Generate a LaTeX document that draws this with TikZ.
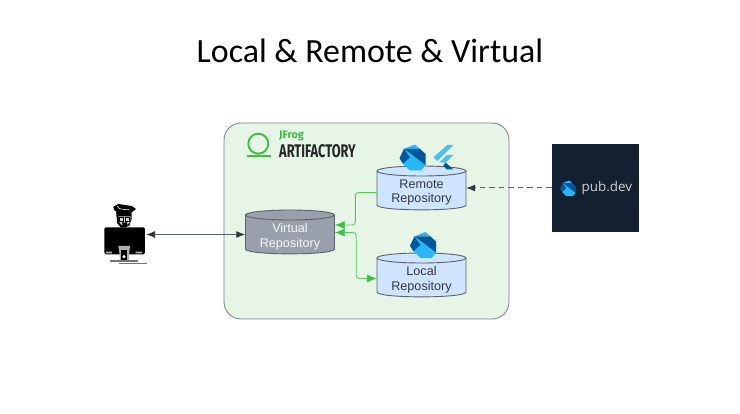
\documentclass[tikz,border=0pt]{standalone}
\usepackage{fontspec}
\usepackage{graphicx}
\setmainfont{Liberation Sans}
\newfontfamily\titlefont{Carlito}
\newfontfamily\logofont{Fira Sans}
\newfontfamily\pubfont{Open Sans}
\usetikzlibrary{arrows.meta,calc}
\definecolor{boxfill}{HTML}{E6F5E6}
\definecolor{boxline}{HTML}{7C868C}
\definecolor{repofill}{HTML}{CFE4FF}
\definecolor{virtfill}{HTML}{9AA0AB}
\definecolor{cylline}{HTML}{59636B}
\definecolor{jgreen}{HTML}{3DBE45}
\definecolor{pubbg}{HTML}{13202F}
\definecolor{txt}{HTML}{333840}
\definecolor{dartdark}{HTML}{01579B}
\definecolor{dartlight}{HTML}{29B6F6}
\tikzset{
  repolabel/.style={inner sep=0pt,align=center,minimum width=89pt,minimum height=38pt,font=\fontsize{12.6}{14}\selectfont},
  cylshape/.style={draw=cylline,line width=0.9pt},
  greentip/.style={Latex[length=10pt,width=8pt,color=jgreen]},
  greenlink/.style={draw=jgreen!85!white,line width=0.9pt,rounded corners=3pt},
  darklink/.style={draw=cylline,line width=1pt}
}
% cx, top, name, text, fill, text colour
\newcommand{\repocyl}[6]{%
  \pgfmathsetmacro{\xa}{#1-44.5}\pgfmathsetmacro{\xb}{#1+44.5}%
  \pgfmathsetmacro{\yt}{#2+5}\pgfmathsetmacro{\yb}{#2+39}\pgfmathsetmacro{\yc}{#2+45.5}%
  \pgfmathsetmacro{\ytx}{#2+26.5}%
  \draw[cylshape,fill=#5] (\xa,\yt) -- (\xa,\yb) .. controls (\xa,\yc) and (\xb,\yc) .. (\xb,\yb) -- (\xb,\yt);
  \draw[cylshape,fill=#5] (#1,\yt) ellipse [x radius=44.5pt,y radius=5pt];
  \node[repolabel,text=#6] (#3) at (#1,\ytx) {#4};
}
\newcommand{\dartlogo}[3]{%
  \begin{scope}[shift={(#1,#2)},x=#3pt,y=-#3pt]
    \fill[dartlight] (.17,.17) -- (.59,0) -- (.79,.17) -- cycle;
    \fill[dartdark] (.17,.17) -- (.79,.17) -- (1,.37) -- (1,.8) -- cycle;
    \fill[dartlight] (.17,.17) -- (1,.8) -- (.83,1) -- (.4,1) -- (.13,.74) -- cycle;
    \fill[dartdark] (0,.53) -- (.17,.17) -- (.4,.5) -- (.13,.74) -- cycle;
  \end{scope}}
\begin{document}
\begin{tikzpicture}[x=1pt,y=-1pt]
\useasboundingbox (0,0) rectangle (740,414);
\fill[white] (0,0) rectangle (740,414);
\node[inner sep=0pt,font=\titlefont\fontsize{33.9}{38}\selectfont,text=black] (title) at (370,50.5) {Local \& Remote \& Virtual};
% Artifactory box
\draw[fill=boxfill,draw=boxline,line width=0.9pt,rounded corners=17pt] (224,123) rectangle (509,319);
% JFrog logo
\node[circle,draw=jgreen,line width=1.9pt,minimum size=20pt,inner sep=0pt] (ring) at (258.3,143.7) {};
\draw[jgreen,line width=1.7pt] (246.5,156.3) -- (271,156.3);
\node[inner sep=0pt,anchor=west,text=jgreen,font=\logofont\bfseries\fontsize{10.8}{12}\selectfont] (jfrog) at (279,136) {JFrog};
\node[inner sep=0pt,anchor=west,text=black!85] (arti) at (279,151) {\resizebox{76.5pt}{13pt}{\logofont\bfseries ARTIFACTORY}};
% Repositories
\repocyl{290}{210}{virtual}{Virtual\\[0.8pt]Repository}{virtfill}{white!92!virtfill}
\repocyl{421.5}{166}{remote}{Remote\\[0.8pt]Repository}{repofill}{txt}
\repocyl{421.5}{253}{local}{Local\\[0.8pt]Repository}{repofill}{txt}
% logos
\dartlogo{399.5}{144.5}{26}
\dartlogo{410}{232}{26}
\begin{scope}[shift={(225,120)},x=0.3333pt,y=-0.3333pt]
  \fill[dartlight!85!white] (625,112) -- (667,75) -- (685,75) -- (637,123) -- cycle;
  \fill[dartlight!85!white] (643,127) -- (666,105) -- (685,105) -- (662,128) -- cycle;
  \fill[dartdark] (655,136) -- (662,128) -- (685,148) -- (665,148) -- cycle;
\end{scope}
% pub.dev
\node[rectangle,fill=pubbg,minimum width=87.5pt,minimum height=88pt,inner sep=0pt] (pub) at (595.5,188) {};
\dartlogo{560}{180.5}{15.5}
\node[inner sep=0pt,anchor=west,text=white!80!pubbg,font=\pubfont\fontsize{13.4}{16}\selectfont] (pubtext) at (581.5,188.5) {pub.dev};
% person
\begin{scope}[shift={(90,195)},x=0.3333pt,y=-0.3333pt]
  \fill[black,rounded corners=1.5pt] (43,97) rectangle (165,178);
  \fill[black] (78,50) -- (125,50) -- (125,72) -- (118,92) -- (105,97) -- (92,97) -- (82,85) -- cycle;
  \fill[white!85!black] (86,64) -- (122,64) -- (120,82) -- (110,90) -- (95,90) -- (88,82) -- cycle;
  \draw[black,line width=0.7pt] (88,68) rectangle (101,78) (106,68) rectangle (119,78);
  \fill[black] (96,82) -- (112,82) -- (110,93) -- (98,93) -- cycle;
  \fill[black] (70,35) -- (85,27) -- (125,33) -- (138,42) -- (125,52) -- (82,52) -- (72,45) -- cycle;
  \draw[white,line width=0.5pt] (82,33) .. controls (84,42) and (95,44) .. (118,44);
  \fill[white!70!black] (85,153) -- (120,153) -- (118,170) -- (116,198) -- (90,198) -- (88,170) -- cycle;
  \fill[black] (93,165) -- (112,165) -- (112,197) -- (93,197) -- cycle;
  \fill[white] (102,185) circle (5);
  \fill[white!70!black] (48,170) rectangle (66,175) (137,170) rectangle (156,175);
  \fill[white!45!black] (60,194) rectangle (145,200);
  \fill[white!45!black] (88,203) rectangle (172,208);
\end{scope}
\coordinate (personr) at (146,234.5);
% connectors
\draw[darklink,{Latex[length=9pt,width=7pt,color=txt]}-{Latex[length=9pt,width=7pt,color=txt]}] (personr) -- ([yshift=2pt]virtual.west);
\draw[greenlink,-{Latex[length=10pt,width=8pt,color=jgreen]}] ([yshift=-0.2pt]remote.west) -- ++(-21.5,0) |- ([yshift=11.5pt]virtual.east);
\draw[greenlink,{Latex[length=10pt,width=8pt,color=jgreen]}-{Latex[length=10pt,width=8pt,color=jgreen]}] ([yshift=4pt]virtual.east) -- ++(21.5,0) |- ([yshift=1pt]local.west);
\draw[darklink,dash pattern=on 5.5pt off 4pt,-{Latex[length=9pt,width=7pt,color=txt]}] (pub.west) -- ([yshift=4.5pt]remote.east);
\end{tikzpicture}
\end{document}
